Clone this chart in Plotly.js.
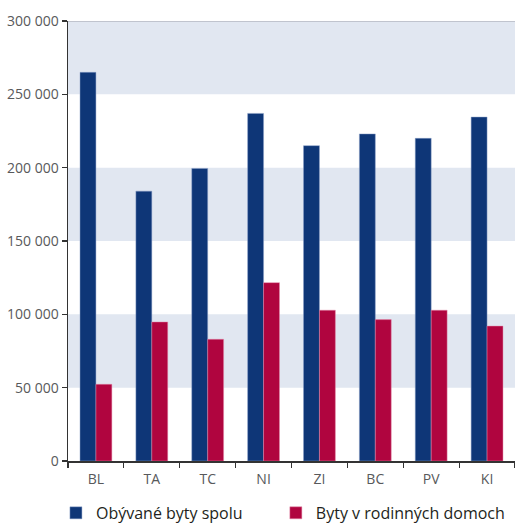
<!DOCTYPE html>
<html>
<head>
<meta charset="utf-8">
<script src="https://cdn.plot.ly/plotly-3.0.1.min.js"></script>
<style>html,body{margin:0;padding:0;background:#fff}#chart{width:515px;height:523px}</style>
</head>
<body>
<div id="chart"></div>
<script>
const categories = ["BL", "TA", "TC", "NI", "ZI", "BC", "PV", "KI"];
const obyvaneByty = [265000, 184000, 199500, 237000, 215000, 223000, 220000, 234500];
const bytyRodinneDomy = [52300, 94800, 83000, 121600, 102800, 96400, 102800, 92000];
const seriesNames = ["Obývané byty spolu", "Byty v rodinných domoch"];
const yTickVals = [0, 50000, 100000, 150000, 200000, 250000, 300000];
const yTickText = ["0", "50 000", "100 000", "150 000", "200 000", "250 000", "300 000"];
const bandRanges = [[50000, 100000], [150000, 200000], [250000, 300000]];

const tickFont = {family: "Open Sans, sans-serif", size: 14, color: "#58595b"};
const legendFont = {family: "Open Sans, sans-serif", size: 16, color: "#231f20"};

const traces = [
  {type: "bar", name: seriesNames[0], x: categories, y: obyvaneByty, legend: "legend",
   marker: {color: "#0e3677", line: {color: "rgba(140,160,200,0.6)", width: 0.8}}},
  {type: "bar", name: seriesNames[1], x: categories, y: bytyRodinneDomy, legend: "legend2",
   marker: {color: "#b0053f", line: {color: "rgba(230,140,170,0.6)", width: 0.8}}}
];

const shapes = bandRanges.map(r => ({
  type: "rect", xref: "paper", yref: "y", x0: 0, x1: 1, y0: r[0], y1: r[1],
  fillcolor: "#e1e7f1", line: {width: 0}, layer: "below"
}));
shapes.push({type: "line", xref: "paper", yref: "y", x0: 0, x1: 1,
  y0: yTickVals[yTickVals.length - 1], y1: yTickVals[yTickVals.length - 1],
  line: {color: "#b5b8c2", width: 1.5}, layer: "below"});

const layout = {
  width: 515, height: 523,
  margin: {l: 68, r: 0, t: 21, b: 62, pad: 0, autoexpand: false},
  paper_bgcolor: "#fff", plot_bgcolor: "#fff",
  barmode: "group", bargap: 0.43, bargroupgap: 0,
  showlegend: true,
  legend: {orientation: "h", x: -0.027, xanchor: "left", y: -0.118, yanchor: "middle",
    font: legendFont, bgcolor: "rgba(0,0,0,0)"},
  legend2: {orientation: "h", x: 0.465, xanchor: "left", y: -0.118, yanchor: "middle",
    font: legendFont, bgcolor: "rgba(0,0,0,0)"},
  xaxis: {type: "category", showline: true, linecolor: "#333", linewidth: 1.5,
    ticks: "outside", tickson: "boundaries", ticklen: 5, tickcolor: "#333", tickwidth: 1.2,
    ticklabelstandoff: 5,
    tickfont: tickFont, showgrid: false, fixedrange: true},
  yaxis: {range: [0, 300000], tickvals: yTickVals, ticktext: yTickText,
    showline: true, linecolor: "#333", linewidth: 1.5,
    ticks: "outside", ticklen: 5, tickcolor: "#333", tickwidth: 1.2,
    tickfont: tickFont, showgrid: false, zeroline: false, fixedrange: true},
  shapes: shapes
};

Plotly.newPlot("chart", traces, layout, {displayModeBar: false, staticPlot: true});
</script>
</body>
</html>
